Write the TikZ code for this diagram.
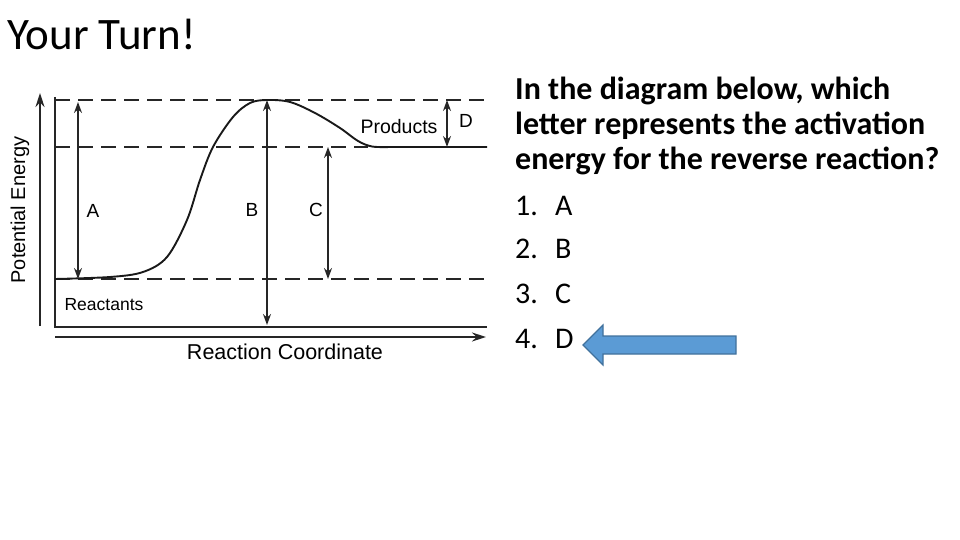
\documentclass[tikz,border=0pt]{standalone}
\usepackage{fontspec}
\setmainfont{Carlito}
\newfontfamily\helv{Liberation Sans}
\usetikzlibrary{arrows.meta}
\definecolor{arrowfill}{HTML}{5B9BD5}
\definecolor{arrowedge}{HTML}{41719C}
\tikzset{
  axisline/.style={line width=1.7pt, black!85},
  dashline/.style={line width=1.8pt, black!85, dash pattern=on 15pt off 8pt},
  dimarrow/.style={line width=1.4pt, black!85, {Stealth[length=11pt,width=8pt]}-{Stealth[length=11pt,width=8pt]}},
  lbl/.style={font=\helv\fontsize{19}{21}\selectfont, inner sep=0pt},
  qline/.style={font=\bfseries\fontsize{32}{34}\selectfont, anchor=base west, inner sep=0pt},
  item/.style={font=\fontsize{30}{32}\selectfont, anchor=base west, inner sep=0pt},
}
\begin{document}
\begin{tikzpicture}[x=1pt,y=-1pt]
\useasboundingbox (0,0) rectangle (960,540);
% title
\node[anchor=base west, inner sep=0pt, font=\fontsize{45}{47}\selectfont] (title) at (7,50) {Your Turn!};
% axes
\coordinate (yb) at (40,326);
\coordinate (yt) at (40,93);
\draw[axisline, -{Stealth[length=14pt,width=9pt]}] (yb) -- (yt);
\coordinate (xl) at (55,337);
\coordinate (xr) at (486,337);
\draw[axisline, -{Stealth[length=14pt,width=9pt]}] (xl) -- (xr);
\draw[axisline] (55,97) -- (55,327) -- (487,327);
% dashed levels
\draw[dashline] (55,100) -- (487,100);
\draw[dashline] (55,147) -- (368,147);
\draw[dashline] (55,279) -- (487,279);
% curve
\draw[line width=1.9pt, black!90] plot[smooth, tension=0.55] coordinates {(55,279) (110,277) (143,272) (167,257) (187,220) (200,180) (213,147) (233,117) (250,103) (267,100) (290,102) (315,113) (340,128) (358,141) (372,146.5) (390,147)} -- (487,147);
% dimension arrows
\draw[dimarrow] (78,102) -- (78,279);
\draw[dimarrow] (267,100) -- (267,325);
\draw[dimarrow] (328,147) -- (328,279);
\draw[dimarrow] (447,100) -- (447,147);
% labels
\node[lbl] (la) at (93,211) {A};
\node[lbl] (lb) at (252,210) {B};
\node[lbl] (lc) at (316,210) {C};
\node[lbl] (ld) at (466,121) {D};
\node[lbl, font=\helv\fontsize{19.5}{21}\selectfont] (prod) at (399,127) {Products};
\node[lbl, font=\helv\fontsize{17.5}{19}\selectfont] (reac) at (104,305) {Reactants};
\node[lbl, font=\helv\fontsize{21.5}{23}\selectfont] (rc) at (285,352) {Reaction Coordinate};
\node[lbl, font=\helv\fontsize{20}{22}\selectfont, rotate=90] (pe) at (20,210) {Potential Energy};
% question
\node[qline] (q1) at (515,100) {In the diagram below, which};
\node[qline] (q2) at (515,135) {letter represents the activation};
\node[qline] (q3) at (515,170) {energy for the reverse reaction?};
\node[item] (i1) at (515,215) {1.};
\node[item] (a1) at (555,215) {A};
\node[item] (i2) at (515,258) {2.};
\node[item] (a2) at (555,258) {B};
\node[item] (i3) at (515,303) {3.};
\node[item] (a3) at (555,303) {C};
\node[item] (i4) at (515,348) {4.};
\node[item] (a4) at (555,348) {D};
% blue arrow
\draw[fill=arrowfill, draw=arrowedge, line width=1.2pt, line join=miter]
  (583,345) -- (603,325) -- (603,336) -- (736,336) -- (736,354) -- (603,354) -- (603,365) -- cycle;
\end{tikzpicture}
\end{document}
